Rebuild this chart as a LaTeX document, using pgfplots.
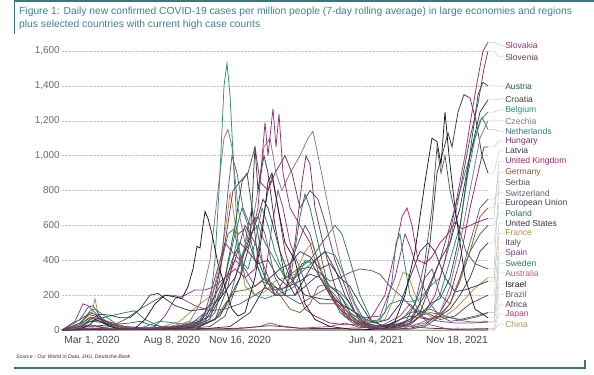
\documentclass[border=0pt]{standalone}
\usepackage{fontspec}
\setmainfont{Liberation Sans}
\usepackage{pgfplots}
\pgfplotsset{compat=1.18}
\definecolor{frame}{HTML}{3C7480}
\definecolor{titlec}{HTML}{3F8190}
\definecolor{cSlovakia}{HTML}{9B2F6E}
\definecolor{cSlovenia}{HTML}{6B3A5E}
\definecolor{cAustria}{HTML}{1F5E3F}
\definecolor{cCroatia}{HTML}{3A3A3A}
\definecolor{cBelgium}{HTML}{2A8C7E}
\definecolor{cCzechia}{HTML}{8E7090}
\definecolor{cNetherlands}{HTML}{2F7F6F}
\definecolor{cHungary}{HTML}{7A2F6A}
\definecolor{cLatvia}{HTML}{3B3B44}
\definecolor{cUK}{HTML}{B0206A}
\definecolor{cGermany}{HTML}{8A5A2A}
\definecolor{cSerbia}{HTML}{555560}
\definecolor{cSwitzerland}{HTML}{606070}
\definecolor{cEU}{HTML}{3A4050}
\definecolor{cPoland}{HTML}{2E6E5E}
\definecolor{cUS}{HTML}{343450}
\definecolor{cFrance}{HTML}{C98838}
\definecolor{cItaly}{HTML}{505058}
\definecolor{cSpain}{HTML}{8A3A8A}
\definecolor{cSweden}{HTML}{2E7E4E}
\definecolor{cAustralia}{HTML}{B0608E}
\definecolor{cIsrael}{HTML}{1A1A1A}
\definecolor{cBrazil}{HTML}{6A5A70}
\definecolor{cAfrica}{HTML}{3A4555}
\definecolor{cJapan}{HTML}{B0407A}
\definecolor{cChina}{HTML}{A89A5A}
\newcommand\lab[4]{%
  \draw[gray!45, line width=0.5bp] (axis cs:488,#1) -- (axis cs:494,#1) -- (axis cs:499,#2) -- (axis cs:504,#2)
    node[anchor=west, inner sep=1bp, text=#3, font=\fontsize{8.6bp}{9bp}\selectfont] {#4};}
\begin{document}
\begin{tikzpicture}
\path[use as bounding box] (0bp,0bp) rectangle (594bp,-375bp);
\draw[frame, line width=2bp] (14bp,-1bp) -- (594bp,-1bp);
\draw[frame, line width=1.5bp] (14.5bp,0bp) -- (14.5bp,-34bp);
\node[anchor=north west, inner sep=0pt, text=titlec, align=left,
      font=\fontsize{10.3bp}{13bp}\selectfont] at (19bp,-7bp)
  {Figure 1: Daily new confirmed COVID-19 cases per million people (7-day rolling average) in large economies and regions\\
   plus selected countries with current high case counts};
\node[anchor=west, inner sep=0pt, font=\fontsize{5.2bp}{6bp}\selectfont\itshape, text=black!80] at (16bp,-357bp)
  {Source : Our World in Data, JHU, Deutsche Bank};
\draw[frame, line width=1.5bp] (14bp,-368bp) -- (585bp,-368bp) -- (585bp,-360bp);
\begin{axis}[
  at={(62bp,-330bp)}, anchor=south west,
  scale only axis, width=426bp, height=279bp,
  xmin=62, xmax=488, ymin=0, ymax=1600, clip=false,
  axis x line*=bottom, axis y line*=left,
  x axis line style={gray!60, line width=0.6bp, -},
  y axis line style={draw=none},
  ymajorgrids, grid style={densely dotted, gray!45, line width=0.5bp},
  ytick={0,200,...,1600},
  xtick={92,172,240,376,457},
  xticklabels={{Mar 1, 2020},{Aug 8, 2020},{Nov 16, 2020},{Jun 4, 2021},{Nov 18, 2021}},
  xtick style={gray!60, line width=0.5bp}, ytick style={draw=none},
  major tick length=3bp,
  /pgf/number format/1000 sep={,},
  /pgf/number format/assume math mode=true,
  yticklabel style={font=\fontsize{10bp}{11bp}\selectfont, text=black!58, anchor=east, inner sep=0pt, xshift=-2bp},
  xticklabel style={font=\fontsize{10.4bp}{11bp}\selectfont, text=black!72, inner sep=0pt, yshift=-6bp},
  every axis plot/.append style={line width=0.75bp},
]
% China
\addplot[cChina] coordinates {(62,0)(70,2)(80,1)(100,0.5)(200,0.3)(300,0.5)(400,0.5)(488,0.5)};
% Japan
\addplot[cJapan] coordinates {(62,0)(90,3)(110,1)(150,5)(170,7)(190,4)(230,5)(260,20)(270,40)(280,25)(300,10)(330,20)(345,40)(360,15)(380,20)(400,80)(410,150)(418,100)(430,30)(450,3)(488,1)};
% Africa
\addplot[cAfrica] coordinates {(62,0)(100,2)(130,5)(160,12)(175,15)(190,10)(220,7)(245,12)(260,20)(270,25)(280,20)(300,10)(330,8)(360,12)(390,25)(400,30)(410,20)(430,10)(460,5)(488,8)};
% Australia
\addplot[cAustralia] coordinates {(62,0)(85,10)(95,12)(110,2)(150,5)(165,18)(175,15)(190,3)(300,1)(380,2)(400,5)(420,40)(435,80)(450,70)(465,50)(478,45)(488,50)};
% Brazil
\addplot[cBrazil] coordinates {(62,0)(90,5)(110,20)(125,60)(140,120)(155,170)(165,200)(175,200)(185,170)(195,140)(210,110)(225,120)(240,150)(255,200)(265,240)(275,230)(290,250)(300,350)(310,360)(320,330)(330,280)(340,300)(350,330)(360,350)(372,340)(380,320)(390,250)(400,200)(410,140)(420,80)(430,60)(440,50)(455,40)(470,40)(488,45)};
% Sweden
\addplot[cSweden] coordinates {(62,0)(80,20)(95,60)(110,80)(125,100)(135,110)(145,60)(160,20)(180,20)(200,30)(215,60)(228,150)(240,400)(250,550)(258,600)(265,500)(275,400)(285,300)(298,350)(310,400)(322,500)(335,600)(342,550)(350,400)(360,200)(372,50)(385,20)(400,30)(415,80)(430,120)(445,80)(460,60)(475,80)(488,100)};
% Spain
\addplot[cSpain] coordinates {(62,0)(75,50)(83,150)(88,140)(95,100)(105,50)(120,20)(140,5)(155,20)(165,80)(175,180)(185,200)(195,230)(205,230)(215,250)(225,300)(235,400)(245,350)(255,250)(265,300)(272,600)(278,800)(283,700)(290,500)(300,350)(310,200)(320,150)(335,150)(350,120)(365,70)(380,80)(395,300)(405,550)(410,480)(420,300)(430,150)(440,80)(450,50)(465,60)(480,80)(488,100)};
% Italy
\addplot[cItaly] coordinates {(62,0)(80,60)(88,90)(95,80)(105,50)(120,15)(150,3)(180,5)(200,20)(215,60)(228,250)(238,550)(245,580)(252,450)(262,300)(272,250)(282,230)(292,280)(302,380)(310,400)(320,300)(330,200)(345,100)(360,40)(375,15)(395,40)(410,100)(420,110)(430,90)(440,60)(455,80)(470,150)(488,200)};
% France
\addplot[cFrance] coordinates {(62,0)(80,40)(88,80)(92,100)(95,180)(97,120)(100,60)(110,20)(130,5)(160,15)(180,50)(200,150)(212,200)(220,380)(226,600)(230,785)(233,700)(238,500)(245,250)(255,200)(265,220)(275,280)(285,300)(295,320)(305,450)(312,500)(318,400)(328,250)(340,120)(355,60)(370,40)(385,60)(395,200)(403,330)(408,320)(415,200)(425,100)(435,60)(445,80)(455,120)(465,180)(475,240)(488,300)};
% US
\addplot[cUS] coordinates {(62,0)(80,10)(90,60)(100,90)(110,85)(120,70)(130,70)(140,120)(150,200)(158,210)(165,180)(175,140)(190,110)(205,120)(220,180)(235,300)(248,500)(258,650)(263,750)(268,700)(273,600)(280,450)(290,300)(305,200)(320,180)(335,170)(350,120)(362,70)(375,40)(388,60)(400,150)(410,300)(420,450)(428,500)(435,450)(445,300)(455,220)(465,230)(475,250)(488,280)};
% Poland
\addplot[cPoland] coordinates {(62,0)(100,5)(130,8)(160,15)(190,20)(205,40)(215,100)(225,300)(235,550)(242,700)(248,600)(255,400)(265,250)(275,200)(285,200)(292,350)(300,650)(305,780)(310,700)(318,500)(328,250)(340,100)(355,30)(370,8)(390,3)(410,5)(425,20)(440,80)(450,150)(460,300)(470,450)(480,550)(488,600)};
% EU
\addplot[cEU] coordinates {(62,0)(80,20)(90,50)(100,45)(120,20)(150,10)(175,20)(195,40)(210,80)(222,200)(232,400)(240,500)(248,450)(258,380)(268,400)(278,300)(288,250)(300,280)(310,320)(320,300)(332,200)(345,120)(358,50)(372,20)(388,30)(400,60)(410,80)(420,70)(430,60)(440,80)(450,120)(460,200)(470,300)(480,450)(488,500)};
% Switzerland
\addplot[cSwitzerland] coordinates {(62,0)(80,60)(88,130)(93,140)(100,80)(110,30)(130,5)(160,10)(190,20)(210,60)(220,300)(228,800)(232,1000)(237,900)(243,700)(250,600)(258,650)(265,550)(275,300)(285,200)(300,150)(315,200)(330,250)(340,220)(350,150)(360,50)(375,15)(390,20)(405,80)(415,150)(425,300)(432,350)(440,200)(450,150)(460,300)(470,500)(480,700)(488,750)};
% Serbia
\addplot[cSerbia] coordinates {(62,0)(90,20)(110,30)(130,40)(140,50)(150,30)(170,15)(190,10)(210,20)(225,80)(240,300)(248,600)(252,700)(258,550)(265,300)(275,200)(285,300)(295,450)(305,600)(310,550)(320,350)(330,200)(345,80)(360,30)(375,15)(390,15)(405,40)(415,150)(425,400)(432,700)(437,1050)(441,900)(445,1000)(450,800)(458,600)(466,450)(475,380)(488,350)};
% Germany
\addplot[cGermany] coordinates {(62,0)(80,30)(90,75)(100,60)(110,30)(130,8)(160,10)(180,15)(200,25)(215,60)(225,150)(235,220)(245,230)(255,250)(262,280)(270,260)(280,200)(290,120)(300,100)(310,150)(318,250)(325,260)(335,200)(345,120)(355,50)(370,15)(385,8)(400,15)(410,40)(420,80)(430,100)(440,90)(450,150)(460,280)(470,450)(480,650)(488,700)};
% UK
\addplot[cUK] coordinates {(62,0)(80,30)(90,70)(100,65)(110,45)(125,20)(150,10)(180,15)(200,50)(215,200)(225,300)(235,350)(245,300)(255,350)(262,600)(268,800)(272,880)(278,700)(285,450)(295,250)(305,120)(315,80)(330,40)(345,30)(360,30)(372,80)(385,200)(395,450)(402,650)(407,700)(412,600)(418,400)(425,380)(432,420)(440,500)(448,550)(455,620)(462,580)(470,600)(478,620)(488,640)};
% Latvia
\addplot[cLatvia] coordinates {(62,0)(100,5)(150,3)(200,5)(230,20)(250,100)(260,200)(270,300)(280,350)(290,380)(300,450)(310,420)(320,350)(330,380)(340,300)(350,250)(360,150)(370,60)(380,30)(395,20)(410,40)(420,150)(430,500)(437,900)(442,1000)(448,1130)(452,1050)(458,1250)(464,1350)(470,1330)(476,1200)(482,1000)(488,900)};
% Hungary
\addplot[cHungary] coordinates {(62,0)(100,5)(150,3)(190,10)(205,50)(215,150)(225,250)(235,400)(245,600)(255,500)(265,350)(275,200)(285,200)(295,500)(302,850)(306,1000)(310,950)(315,700)(325,450)(335,250)(345,100)(355,40)(370,10)(390,5)(410,10)(425,30)(440,100)(450,200)(460,400)(470,700)(478,900)(484,1050)(488,1050)};
% Netherlands
\addplot[cNetherlands] coordinates {(62,0)(80,20)(90,60)(100,50)(110,20)(130,5)(160,15)(180,25)(200,60)(210,150)(220,350)(228,550)(234,580)(240,400)(248,350)(255,500)(262,700)(268,600)(275,450)(285,300)(295,300)(305,350)(315,400)(325,450)(335,430)(345,300)(355,150)(365,50)(375,40)(385,100)(392,280)(396,500)(400,550)(404,400)(410,200)(420,100)(430,130)(440,200)(450,400)(460,600)(468,900)(475,1100)(482,1220)(488,1150)};
% Czechia
\addplot[cCzechia] coordinates {(62,0)(85,20)(95,25)(110,10)(140,10)(170,20)(190,50)(200,150)(210,400)(218,800)(224,1100)(228,1150)(232,1050)(238,700)(245,500)(252,600)(258,800)(264,1050)(270,1100)(276,900)(282,800)(290,900)(300,1000)(308,1100)(313,1140)(318,1000)(325,800)(332,600)(340,400)(350,200)(360,80)(370,30)(380,15)(395,15)(410,20)(425,40)(440,100)(450,250)(460,500)(470,800)(480,1100)(488,1200)};
% Belgium
\addplot[cBelgium] coordinates {(62,0)(80,30)(90,110)(95,120)(100,100)(110,60)(120,20)(140,10)(160,50)(175,40)(190,30)(200,40)(210,150)(215,400)(220,900)(224,1400)(227,1530)(230,1350)(234,900)(238,500)(245,300)(255,200)(265,180)(275,200)(285,220)(295,250)(305,400)(312,380)(320,300)(330,250)(340,200)(350,120)(360,80)(370,50)(380,60)(390,150)(400,170)(410,160)(420,180)(430,250)(440,300)(450,500)(460,800)(470,1000)(480,1200)(488,1250)};
% Austria
\addplot[cAustria] coordinates {(62,0)(80,40)(90,100)(95,90)(105,40)(120,5)(150,10)(180,20)(200,50)(215,150)(225,300)(235,600)(242,850)(247,900)(252,700)(258,400)(265,300)(275,250)(285,200)(295,200)(305,250)(315,300)(322,320)(330,250)(340,200)(350,100)(360,60)(370,20)(380,10)(395,15)(410,30)(420,80)(430,150)(440,180)(450,300)(458,500)(465,800)(472,1100)(478,1350)(483,1420)(488,1400)};
% Croatia
\addplot[cCroatia] coordinates {(62,0)(100,3)(150,5)(180,10)(200,20)(220,80)(240,300)(250,500)(255,1050)(258,800)(264,1000)(268,900)(275,600)(285,300)(295,200)(305,300)(315,400)(325,450)(335,350)(345,200)(355,100)(365,40)(380,20)(395,30)(410,50)(420,100)(430,250)(440,400)(450,500)(460,700)(470,1000)(480,1250)(488,1320)};
% Israel
\addplot[cIsrael] coordinates {(62,0)(80,5)(90,30)(95,60)(100,50)(110,20)(120,5)(135,10)(145,60)(155,150)(165,200)(175,190)(182,180)(188,250)(193,350)(197,480)(200,470)(203,600)(205,680)(208,640)(212,550)(218,380)(225,250)(232,120)(238,80)(245,100)(255,300)(262,550)(268,850)(272,900)(278,700)(285,500)(295,400)(305,150)(315,60)(330,20)(350,5)(370,3)(385,10)(395,50)(405,200)(415,450)(425,850)(432,1100)(437,1080)(441,950)(445,1250)(449,1000)(455,700)(465,300)(475,120)(488,70)};
% Slovenia
\addplot[cSlovenia] coordinates {(62,0)(80,20)(90,30)(110,5)(150,10)(190,20)(205,60)(215,200)(225,500)(233,800)(240,850)(248,900)(255,1050)(260,850)(268,800)(275,900)(285,1000)(292,900)(300,700)(310,800)(318,750)(326,600)(335,400)(345,250)(355,100)(365,40)(380,20)(395,30)(410,60)(425,200)(440,400)(450,600)(460,800)(470,1100)(478,1300)(484,1500)(488,1600)};
% Slovakia
\addplot[cSlovakia] coordinates {(62,0)(90,10)(120,5)(160,10)(190,30)(205,100)(215,300)(225,500)(232,450)(240,400)(250,500)(258,700)(265,1190)(268,1000)(273,1270)(276,1050)(279,1240)(283,900)(290,700)(300,600)(310,500)(320,300)(335,150)(350,60)(365,20)(380,10)(395,10)(410,30)(425,100)(435,200)(445,400)(455,700)(465,1000)(472,1250)(478,1450)(483,1600)(488,1650)};
% connectors and labels
\lab{1650}{1634}{cSlovakia}{Slovakia}
\lab{1600}{1566}{cSlovenia}{Slovenia}
\lab{1400}{1399}{cAustria}{Austria}
\lab{1320}{1325}{cCroatia}{Croatia}
\lab{1250}{1262}{cBelgium}{Belgium}
\lab{1200}{1199}{cCzechia}{Czechia}
\lab{1150}{1141}{cNetherlands}{Netherlands}
\lab{1050}{1084}{cHungary}{Hungary}
\lab{900}{1027}{cLatvia}{Latvia}
\lab{640}{969}{cUK}{United Kingdom}
\lab{700}{906}{cGermany}{Germany}
\lab{350}{849}{cSerbia}{Serbia}
\lab{750}{786}{cSwitzerland}{Switzerland}
\lab{500}{728}{cEU}{European Union}
\lab{600}{671}{cPoland}{Poland}
\lab{280}{614}{cUS}{United States}
\lab{300}{556}{cFrance}{France}
\lab{200}{499}{cItaly}{Italy}
\lab{100}{442}{cSpain}{Spain}
\lab{100}{384}{cSweden}{Sweden}
\lab{50}{327}{cAustralia}{Australia}
\lab{70}{264}{cIsrael}{Israel}
\lab{45}{206}{cBrazil}{Brazil}
\lab{8}{149}{cAfrica}{Africa}
\lab{1}{92}{cJapan}{Japan}
\lab{0.5}{34}{cChina}{China}
\end{axis}
\end{tikzpicture}
\end{document}
